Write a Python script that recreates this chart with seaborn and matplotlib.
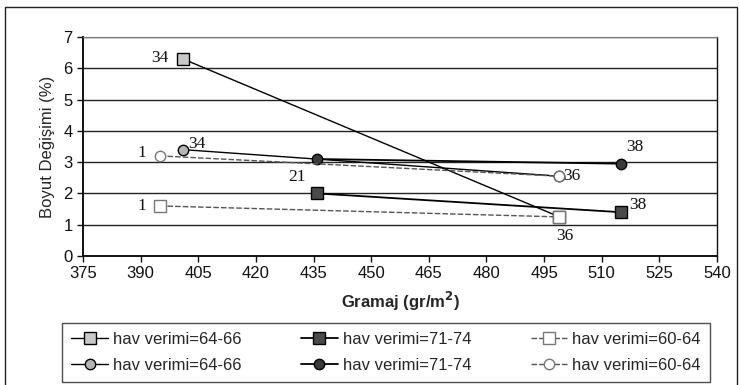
import matplotlib
matplotlib.use("Agg")
import matplotlib.pyplot as plt
from matplotlib.patches import Rectangle
import seaborn as sns
import pandas as pd

# Gramaj (gr/m2) and dimensional change (%) per hav verimi group
sq_64_x = [401, 499]
sq_64_y = [6.3, 1.25]
sq_71_x = [436, 515]
sq_71_y = [2.0, 1.4]
sq_60_x = [395, 499]
sq_60_y = [1.6, 1.25]

ci_64_x = [401, 499]
ci_64_y = [3.4, 2.55]
ci_71_x = [436, 515]
ci_71_y = [3.1, 2.95]
ci_60_x = [395, 499]
ci_60_y = [3.2, 2.55]

series_names = ["hav verimi=64-66", "hav verimi=71-74", "hav verimi=60-64"]
x_ticks = list(range(375, 541, 15))
y_ticks = list(range(0, 8))

sns.set_theme(style="white")
plt.rcParams["font.family"] = ["Liberation Sans", "DejaVu Sans"]

fig = plt.figure(figsize=(7.4, 3.85), dpi=100)
ax = fig.add_axes([83 / 740, 1 - 256 / 385, (717 - 83) / 740, (256 - 37) / 385])

# outer frame of the chart area
fig.patches.append(Rectangle((5 / 740, -0.02), 732 / 740, 1.02 - 7 / 385,
                             transform=fig.transFigure, fill=False,
                             edgecolor="#222222", linewidth=1.0))

styles = [
    dict(marker="s", color="black", ls="-", lw=1.0, mfc="#c8c8c8", mec="black", ms=8),
    dict(marker="s", color="black", ls="-", lw=1.3, mfc="#4a4a4a", mec="black", ms=8),
    dict(marker="s", color="#555555", ls=(0, (4, 1.5)), lw=1.0, mfc="white", mec="#777777", ms=8),
    dict(marker="o", color="black", ls="-", lw=1.0, mfc="#b5b5b5", mec="black", ms=7.5),
    dict(marker="o", color="black", ls="-", lw=1.3, mfc="#3a3a3a", mec="black", ms=7.5),
    dict(marker="o", color="#555555", ls=(0, (4, 1.5)), lw=1.0, mfc="white", mec="#777777", ms=7.5),
]
data = [(sq_64_x, sq_64_y), (sq_71_x, sq_71_y), (sq_60_x, sq_60_y),
        (ci_64_x, ci_64_y), (ci_71_x, ci_71_y), (ci_60_x, ci_60_y)]
labels = series_names + series_names

handles = []
for (xs, ys), st, lab in zip(data, styles, labels):
    df = pd.DataFrame({"Gramaj": xs, "Boyut": ys})
    sns.lineplot(data=df, x="Gramaj", y="Boyut", ax=ax, estimator=None, sort=False,
                 marker=st["marker"], color=st["color"], linestyle=st["ls"],
                 linewidth=st["lw"], markerfacecolor=st["mfc"],
                 markeredgecolor=st["mec"], markersize=st["ms"],
                 markeredgewidth=1.0, label=lab, legend=False, zorder=3)
    handles.append(ax.lines[-1])

# point annotations (sample numbers)
serif = ["Liberation Serif", "DejaVu Serif"]
ann = [
    (sq_64_x[0], sq_64_y[0], "34", (-10, 1), "right", "center"),
    (sq_64_x[1], sq_64_y[1], "36", (4, -14), "center", "center"),
    (sq_71_x[0], sq_71_y[0], "21", (-15, 12), "center", "center"),
    (sq_71_x[1], sq_71_y[1], "38", (6, 5), "left", "center"),
    (sq_60_x[0], sq_60_y[0], "1", (-10, 0), "right", "center"),
    (ci_64_x[0], ci_64_y[0], "34", (4, 4), "left", "center"),
    (ci_71_x[1], ci_71_y[1], "38", (4, 12), "left", "center"),
    (ci_60_x[0], ci_60_y[0], "1", (-10, 2), "right", "center"),
    (ci_60_x[1], ci_60_y[1], "36", (3, 0), "left", "center"),
]
for x, y, t, off, ha, va in ann:
    ax.annotate(t, (x, y), xytext=off, textcoords="offset points", ha=ha, va=va,
                fontsize=12.5, family=serif, color="#111111")

ax.set_xlim(375, 540)
ax.set_ylim(0, 7)
ax.set_xticks(x_ticks)
ax.set_yticks(y_ticks)
ax.tick_params(axis="both", labelsize=12, colors="#111111", length=4,
               width=1, direction="out", bottom=True, left=True)
ax.yaxis.grid(True, color="#222222", linewidth=1.0)
ax.xaxis.grid(False)
ax.set_axisbelow(True)
for side in ["left", "bottom", "right", "top"]:
    ax.spines[side].set_visible(True)
    ax.spines[side].set_color("#111111")
ax.spines["left"].set_linewidth(1.4)
ax.spines["bottom"].set_linewidth(1.4)
ax.spines["right"].set_linewidth(1.0)
ax.spines["top"].set_linewidth(0.8)
ax.spines["top"].set_color("#777777")

ax.set_xlabel("Gramaj (gr/m$^{\\mathbf{2}}$)", fontsize=12, fontweight="bold", labelpad=6)
ax.set_ylabel("Boyut Değişimi (%)", fontsize=12, labelpad=6)

order = [0, 3, 1, 4, 2, 5]
leg = fig.legend([handles[i] for i in order], [labels[i] for i in order],
                 ncol=3, loc="lower left",
                 bbox_to_anchor=(62 / 740, 3 / 385, (710 - 62) / 740, 62 / 385),
                 mode="expand", fontsize=12, frameon=True, fancybox=False,
                 edgecolor="#222222", handlelength=2.2, handletextpad=0.3,
                 borderaxespad=0.0, borderpad=0.55, labelspacing=0.65,
                 columnspacing=1.0)
leg.get_frame().set_linewidth(1.0)

fig.savefig("out.png", dpi=100)
